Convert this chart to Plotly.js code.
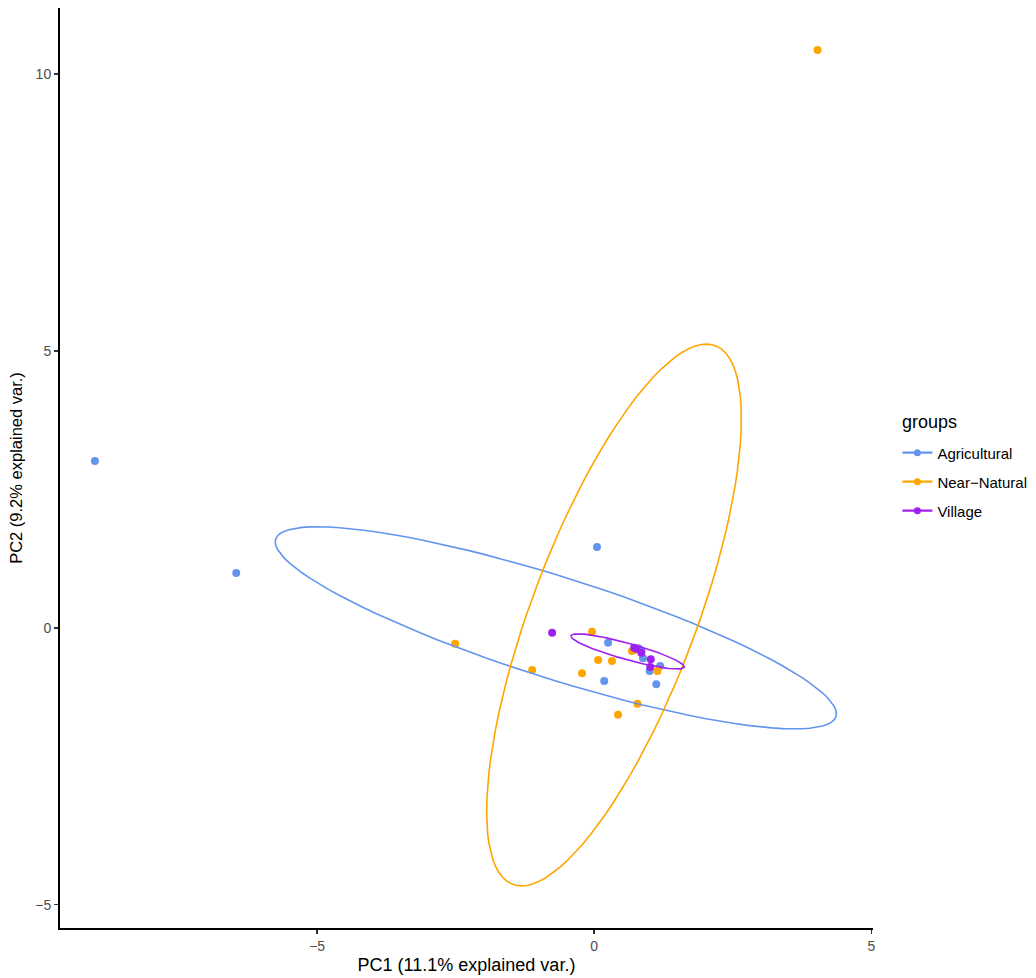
<!DOCTYPE html>
<html>
<head>
<meta charset="utf-8">
<script src="https://cdn.plot.ly/plotly-3.0.1.min.js"></script>
<style>html,body{margin:0;padding:0;background:#fff;}</style>
</head>
<body>
<div id="chart" style="width:1036px;height:978px;"></div>
<script>
// Group names and colours
const groups = ["Agricultural", "Near\u2212Natural", "Village"];
const colors = ["#6495ED", "#FFA500", "#A020F0"];

// PC scores per group
const agriX = [-9.01, -6.46, 0.05, 0.25, 0.18, 0.80, 0.85, 0.83, 0.88, 1.19, 1.00, 1.12];
const agriY = [3.01, 0.99, 1.46, -0.27, -0.96, -0.37, -0.42, -0.40, -0.55, -0.69, -0.78, -1.02];

const natX = [4.03, -2.51, -1.12, -0.04, 0.07, 0.32, -0.22, 0.68, 0.72, 1.14, 0.78, 0.43];
const natY = [10.43, -0.29, -0.76, -0.07, -0.58, -0.60, -0.82, -0.42, -0.40, -0.78, -1.37, -1.57];

const villX = [-0.76, 0.76, 0.72, 1.02, 1.01, 0.85];
const villY = [-0.09, -0.38, -0.36, -0.57, -0.71, -0.45];

const ellipseProb = 0.68;
const xTicks = [-5, 0, 5];
const yTicks = [-5, 0, 5, 10];

// Normal-probability ellipse as in ggbiplot (covariance, Cholesky)
function ellipse(xs, ys) {
  const n = xs.length;
  const mx = xs.reduce((a, b) => a + b, 0) / n;
  const my = ys.reduce((a, b) => a + b, 0) / n;
  let sxx = 0, syy = 0, sxy = 0;
  for (let i = 0; i < n; i++) {
    sxx += (xs[i] - mx) ** 2;
    syy += (ys[i] - my) ** 2;
    sxy += (xs[i] - mx) * (ys[i] - my);
  }
  sxx /= (n - 1); syy /= (n - 1); sxy /= (n - 1);
  const r11 = Math.sqrt(sxx), r12 = sxy / r11, r22 = Math.sqrt(syy - r12 * r12);
  const ed = Math.sqrt(-2 * Math.log(1 - ellipseProb));
  const ex = [], ey = [];
  for (let k = 0; k <= 100; k++) {
    const t = -Math.PI + 2 * Math.PI * k / 100;
    const c = Math.cos(t), s = Math.sin(t);
    ex.push(mx + ed * c * r11);
    ey.push(my + ed * (c * r12 + s * r22));
  }
  return [ex, ey];
}

const dataX = [agriX, natX, villX];
const dataY = [agriY, natY, villY];
const traces = [];

for (let g = 0; g < 3; g++) {
  traces.push({
    type: "scatter", mode: "markers", x: dataX[g], y: dataY[g],
    marker: {color: colors[g], size: 8}, showlegend: false,
    legendgroup: groups[g], hoverinfo: "x+y"
  });
}
for (let g = 0; g < 3; g++) {
  const [ex, ey] = ellipse(dataX[g], dataY[g]);
  traces.push({
    type: "scatter", mode: "lines", x: ex, y: ey,
    line: {color: colors[g], width: 1.6}, showlegend: false,
    legendgroup: groups[g], hoverinfo: "skip"
  });
}
for (let g = 0; g < 3; g++) {
  traces.push({
    type: "scatter", mode: "lines+markers", x: [null], y: [null],
    name: groups[g], legendgroup: groups[g],
    line: {color: colors[g], width: 2.2}, marker: {color: colors[g], size: 7}
  });
}

const fmt = v => v < 0 ? "\u2212" + Math.abs(v) : String(v);

const layout = {
  width: 1036, height: 978,
  margin: {l: 60, r: 163, t: 8, b: 50, autoexpand: false},
  paper_bgcolor: "#ffffff", plot_bgcolor: "#ffffff",
  font: {family: "Liberation Sans, Arial, sans-serif", color: "#000"},
  xaxis: {
    range: [-9.64, 5.03], tickvals: xTicks, ticktext: xTicks.map(fmt),
    showgrid: false, zeroline: false, showline: true, linecolor: "#000", linewidth: 2,
    ticks: "outside", ticklen: 4, tickwidth: 1.5, tickcolor: "#333",
    tickfont: {size: 14, color: "#4D4D4D"}, automargin: false,
    title: {text: "PC1 (11.1% explained var.)", font: {size: 18, color: "#000"}, standoff: 6}
  },
  yaxis: {
    range: [-5.42, 11.19], tickvals: yTicks, ticktext: yTicks.map(fmt),
    showgrid: false, zeroline: false, showline: true, linecolor: "#000", linewidth: 2,
    ticks: "outside", ticklen: 4, tickwidth: 1.5, tickcolor: "#333",
    tickfont: {size: 14, color: "#4D4D4D"}, automargin: false,
    title: {text: "PC2 (9.2% explained var.)", font: {size: 16.5, color: "#000"}, standoff: 8}
  },
  annotations: [{
    text: "groups", xref: "paper", yref: "paper", x: 1.0332, y: 0.55,
    xanchor: "left", yanchor: "middle", showarrow: false,
    font: {size: 18, color: "#000"}
  }],
  legend: {
    x: 1.03, xanchor: "left", y: 0.5343, yanchor: "top",
    font: {size: 15, color: "#000"}, tracegroupgap: 6.5, itemwidth: 30,
    bgcolor: "rgba(0,0,0,0)"
  },
  showlegend: true
};

Plotly.newPlot("chart", traces, layout, {displayModeBar: false, staticPlot: true});
</script>
</body>
</html>
